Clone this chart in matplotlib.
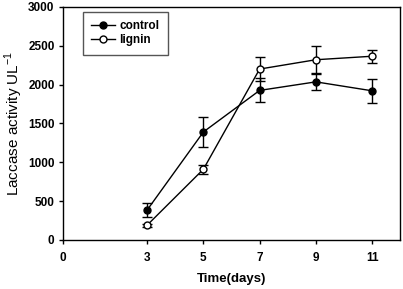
import matplotlib
matplotlib.use("Agg")
import matplotlib.pyplot as plt
from matplotlib.lines import Line2D

plt.rcParams['font.family'] = ['Liberation Sans', 'DejaVu Sans']
plt.rcParams['mathtext.fontset'] = 'custom'
plt.rcParams['mathtext.rm'] = 'Liberation Sans'

days = [3, 5, 7, 9, 11]
control = [385, 1390, 1925, 2035, 1920]
control_err = [90, 195, 155, 110, 155]
lignin = [190, 910, 2200, 2320, 2365]
lignin_err = [20, 60, 155, 180, 85]

fig = plt.figure(figsize=(4.03, 2.89), dpi=100)
ax = fig.add_axes([0.156, 0.170, 0.837, 0.806])

ax.errorbar(days, control, yerr=control_err, color='black', marker='o',
            markersize=5, markerfacecolor='black', linewidth=1, elinewidth=1,
            capsize=3.5, capthick=1)
ax.errorbar(days, lignin, yerr=lignin_err, color='black', marker='o',
            markersize=5, markerfacecolor='white', linewidth=1, elinewidth=1,
            capsize=3.5, capthick=1)

ax.set_xlim(0, 12)
ax.set_ylim(0, 3000)
ax.set_xticks([0, 3, 5, 7, 9, 11])
ax.set_yticks([0, 500, 1000, 1500, 2000, 2500, 3000])
ax.tick_params(direction='out', length=3, width=1, labelsize=8.5, pad=3)
ax.tick_params(axis='x', pad=6)
for lab in ax.get_xticklabels() + ax.get_yticklabels():
    lab.set_fontweight('bold')
for s in ax.spines.values():
    s.set_linewidth(1)

ax.set_xlabel('Time(days)', fontsize=9.5, fontweight='bold', labelpad=6)
ax.set_ylabel('Laccase activity UL$^{\\mathrm{-1}}$', fontsize=11, labelpad=2)

handles = [Line2D([], [], color='black', marker='o', markersize=5,
                  markerfacecolor='black', linewidth=1),
           Line2D([], [], color='black', marker='o', markersize=5,
                  markerfacecolor='white', linewidth=1)]
leg = ax.legend(handles, ['control', 'lignin'], loc='upper left',
                bbox_to_anchor=(0.059, 0.979), borderaxespad=0,
                prop={'size': 8.5, 'weight': 'bold'},
                fancybox=False, edgecolor='#555555', framealpha=1,
                handlelength=2.0, handletextpad=0.4, borderpad=0.7,
                labelspacing=0.2)
leg.get_frame().set_linewidth(1)

fig.savefig('out.png', dpi=100)
